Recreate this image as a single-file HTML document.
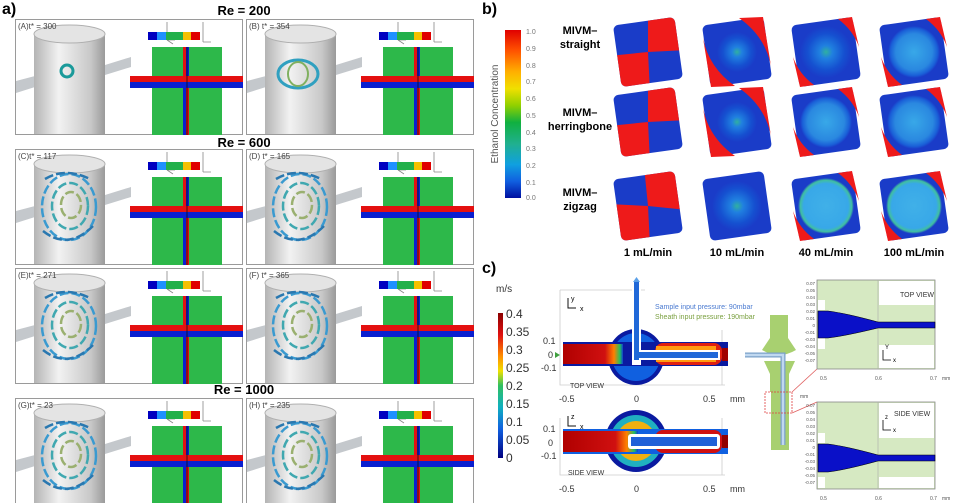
<!DOCTYPE html>
<html><head><meta charset="utf-8"><style>
html,body{margin:0;padding:0;background:#fff;}
svg{display:block;font-family:"Liberation Sans",sans-serif;}
</style></head><body>
<svg width="955" height="503" viewBox="0 0 955 503" xmlns="http://www.w3.org/2000/svg">
<defs>
<linearGradient id="cyl" x1="0" x2="1" y1="0" y2="0">
<stop offset="0" stop-color="#b4b4b4"/><stop offset="0.35" stop-color="#f2f2f2"/><stop offset="0.8" stop-color="#c8c8c8"/><stop offset="1" stop-color="#9a9a9a"/></linearGradient>
<linearGradient id="jet" x1="0" x2="0" y1="0" y2="1">
<stop offset="0" stop-color="#e00000"/><stop offset="0.12" stop-color="#ff5000"/><stop offset="0.25" stop-color="#ffb000"/><stop offset="0.35" stop-color="#f0e000"/><stop offset="0.45" stop-color="#90d000"/><stop offset="0.55" stop-color="#10b040"/><stop offset="0.68" stop-color="#20b090"/><stop offset="0.8" stop-color="#10a0e0"/><stop offset="0.9" stop-color="#1060e0"/><stop offset="1" stop-color="#0010a0"/></linearGradient>
<linearGradient id="jet2" x1="0" x2="0" y1="0" y2="1">
<stop offset="0" stop-color="#8a0000"/><stop offset="0.15" stop-color="#e01010"/><stop offset="0.3" stop-color="#ff9000"/><stop offset="0.4" stop-color="#f0e000"/><stop offset="0.5" stop-color="#30c060"/><stop offset="0.65" stop-color="#10b0c0"/><stop offset="0.8" stop-color="#1060e0"/><stop offset="1" stop-color="#000080"/></linearGradient>
<linearGradient id="inlet" x1="0" x2="1" y1="0" y2="0"><stop offset="0" stop-color="#b00000"/><stop offset="0.7" stop-color="#d01010"/><stop offset="0.85" stop-color="#ff8000"/><stop offset="0.95" stop-color="#20c060"/><stop offset="1" stop-color="#1040d0"/></linearGradient>
<radialGradient id="mix1"><stop offset="0" stop-color="#30b0a0"/><stop offset="0.25" stop-color="#2080e0"/><stop offset="0.7" stop-color="#1550d0"/><stop offset="1" stop-color="#1a3cc8"/></radialGradient>
<radialGradient id="mix2"><stop offset="0" stop-color="#38a8e8"/><stop offset="0.7" stop-color="#2a88e0"/><stop offset="0.9" stop-color="#1a60d8"/><stop offset="1" stop-color="#1a3cc8"/></radialGradient>
<radialGradient id="mix3"><stop offset="0" stop-color="#40b0e8"/><stop offset="0.8" stop-color="#38a8e8"/><stop offset="0.92" stop-color="#40c0a0"/><stop offset="1" stop-color="#1a3cc8"/></radialGradient>
<g id="pan">
<rect x="0.5" y="0.5" width="227" height="115" fill="#fff" stroke="#9a9a9a"/>
<polygon points="1,62 20,57 20,68 1,74" fill="#c4c8cc"/>
<rect x="19" y="15" width="71" height="100" fill="url(#cyl)"/>
<ellipse cx="54.5" cy="15" rx="35.5" ry="9" fill="#e4e4e4" stroke="#b0b0b0"/>
<polygon points="90,46 116,38 116,48 90,56" fill="#c4c8cc"/>
<g stroke="#888" stroke-width="0.8" fill="none"><path d="M152 3v18M152 21h8M152 21l6 4"/><path d="M188 3v20M188 23h8"/></g>
<rect x="133" y="13" width="9" height="8" fill="#0000c0"/><rect x="142" y="13" width="9" height="8" fill="#1e90ff"/><rect x="151" y="13" width="17" height="8" fill="#22b04a"/><rect x="168" y="13" width="8" height="8" fill="#f5c000"/><rect x="176" y="13" width="9" height="8" fill="#e00000"/>
<rect x="137" y="28" width="70" height="88" fill="#2db84a"/>
<rect x="115" y="57" width="113" height="6" fill="#e41010"/>
<rect x="115" y="63" width="113" height="6" fill="#0a1fd0"/>
<rect x="168" y="28" width="3" height="29" fill="#e41010"/><rect x="171" y="28" width="3" height="29" fill="#0a1fd0"/>
<rect x="168" y="69" width="3" height="47" fill="#0a1fd0"/><rect x="171" y="69" width="3" height="47" fill="#e41010"/>
<line x1="172" y1="28" x2="172" y2="116" stroke="#111" stroke-width="0.8"/>
</g>
<g id="sw"><g fill="none" stroke-width="2.5" stroke-dasharray="9 3">
<ellipse cx="54" cy="58" rx="27" ry="33" stroke="#3a9ad0"/><ellipse cx="55" cy="57" rx="18" ry="23" stroke="#40a8b0"/><ellipse cx="56" cy="56" rx="10" ry="13" stroke="#9ab070"/><path d="M30 30q20-12 45 0M28 82q25 20 50 -5" stroke="#2a78b0"/></g></g>
<g id="sq"><rect x="-31" y="-31" width="62" height="62" rx="5" fill="#1a3cc8" transform="rotate(-8)"/></g>
<clipPath id="sqc"><rect x="-31" y="-31" width="62" height="62" rx="5" transform="rotate(-8)"/></clipPath>
<g id="cr"><path d="M12,-33 L26,-35 L33,-5 Q27,-22 12,-33Z M-12,33 L-26,35 L-33,5 Q-27,22 -12,33Z" fill="#ee1a1a"/></g>
<g id="cr2"><path d="M2,-34 L26,-35 L34,14 Q28,-16 2,-34Z M-2,34 L-26,35 L-34,-14 Q-28,16 -2,34Z" fill="#ee1a1a"/></g>
</defs>

<text x="2" y="14" font-size="16" font-weight="bold">a)</text>
<text x="244" y="15" font-size="13" font-weight="bold" text-anchor="middle">Re = 200</text>
<text x="244" y="147" font-size="13" font-weight="bold" text-anchor="middle">Re = 600</text>
<text x="244" y="394" font-size="13" font-weight="bold" text-anchor="middle">Re = 1000</text>

<use href="#pan" x="15" y="19"/><use href="#pan" x="246" y="19"/>
<use href="#pan" x="15" y="149"/><use href="#pan" x="246" y="149"/>
<use href="#pan" x="15" y="268"/><use href="#pan" x="246" y="268"/>
<use href="#pan" x="15" y="398"/><use href="#pan" x="246" y="398"/>

<ellipse cx="67" cy="71" rx="6" ry="6" fill="none" stroke="#1a9a9a" stroke-width="3"/>
<ellipse cx="298" cy="74" rx="20" ry="14" fill="none" stroke="#30a0c0" stroke-width="3"/>
<ellipse cx="298" cy="74" rx="10" ry="12" fill="none" stroke="#80b060" stroke-width="2"/>
<use href="#sw" x="15" y="149"/><use href="#sw" x="246" y="149"/>
<use href="#sw" x="15" y="268"/><use href="#sw" x="246" y="268"/>
<use href="#sw" x="15" y="398"/><use href="#sw" x="246" y="398"/>

<g font-size="8" fill="#444">
<text x="18" y="29">(A)t* = 300</text><text x="249" y="29">(B) t* = 354</text>
<text x="18" y="159">(C)t* = 117</text><text x="249" y="159">(D) t* = 165</text>
<text x="18" y="278">(E)t* = 271</text><text x="249" y="278">(F) t* = 365</text>
<text x="18" y="408">(G)t* = 23</text><text x="249" y="408">(H) t* = 235</text>
</g>

<text x="482" y="14" font-size="16" font-weight="bold">b)</text>
<rect x="505" y="30" width="16" height="168" fill="url(#jet)"/>
<text transform="translate(498,114) rotate(-90)" font-size="10" fill="#555" text-anchor="middle">Ethanol Concentration</text>
<g font-size="7" fill="#777">
<text x="526" y="34">1.0</text><text x="526" y="51">0.9</text><text x="526" y="68">0.8</text><text x="526" y="84">0.7</text><text x="526" y="101">0.6</text><text x="526" y="118">0.5</text><text x="526" y="135">0.4</text><text x="526" y="151">0.3</text><text x="526" y="168">0.2</text><text x="526" y="185">0.1</text><text x="526" y="200">0.0</text>
</g>
<g font-size="11" font-weight="bold" text-anchor="middle">
<text x="580" y="34">MIVM–</text><text x="580" y="48">straight</text>
<text x="580" y="116">MIVM–</text><text x="580" y="130">herringbone</text>
<text x="580" y="196">MIVM–</text><text x="580" y="210">zigzag</text>
<text x="648" y="256">1 mL/min</text><text x="737" y="256">10 mL/min</text><text x="826" y="256">40 mL/min</text><text x="914" y="256">100 mL/min</text>
</g>
<g transform="translate(648,52)"><use href="#sq"/><g clip-path="url(#sqc)"><path d="M0 0 L0 -40 L40 -40 L40 -2Z M0 0 L-40 4 L-40 40 L2 40Z" fill="#ee1a1a"/></g></g>
<g transform="translate(648,122)"><use href="#sq"/><g clip-path="url(#sqc)"><path d="M0 0 L0 -40 L40 -40 L40 -2Z M0 0 L-40 4 L-40 40 L2 40Z" fill="#ee1a1a"/></g></g>
<g transform="translate(648,206)"><use href="#sq"/><g clip-path="url(#sqc)"><path d="M0 0 L-4 -40 L40 -40 L40 4Z M0 0 L-40 -2 L-40 40 L2 40Z" fill="#ee1a1a"/></g></g>
<g transform="translate(737,52)"><use href="#sq"/><circle r="20" fill="url(#mix1)"/><use href="#cr2"/></g>
<g transform="translate(737,122)"><use href="#sq"/><circle r="20" fill="url(#mix1)"/><use href="#cr2"/></g>
<g transform="translate(737,206)"><use href="#sq"/><circle r="25" fill="url(#mix1)"/></g>
<g transform="translate(826,52)"><use href="#sq"/><circle r="26" fill="url(#mix1)"/><use href="#cr"/></g>
<g transform="translate(826,122)"><use href="#sq"/><circle r="26" fill="url(#mix2)"/><use href="#cr"/></g>
<g transform="translate(826,206)"><use href="#sq"/><circle r="28" fill="url(#mix3)"/><use href="#cr"/></g>
<g transform="translate(914,52)"><use href="#sq"/><circle r="26" fill="url(#mix2)"/><use href="#cr"/></g>
<g transform="translate(914,122)"><use href="#sq"/><circle r="27" fill="url(#mix2)"/><use href="#cr"/></g>
<g transform="translate(914,206)"><use href="#sq"/><circle r="28" fill="url(#mix3)"/><use href="#cr"/></g>

<text x="482" y="273" font-size="16" font-weight="bold">c)</text>
<text x="496" y="292" font-size="10" fill="#333">m/s</text>
<rect x="498" y="313" width="5" height="145" fill="url(#jet2)"/>
<g font-size="12" fill="#333">
<text x="506" y="318">0.4</text><text x="506" y="336">0.35</text><text x="506" y="354">0.3</text><text x="506" y="372">0.25</text><text x="506" y="390">0.2</text><text x="506" y="408">0.15</text><text x="506" y="426">0.1</text><text x="506" y="444">0.05</text><text x="506" y="462">0</text>
</g>
<g stroke="#ccc" stroke-width="0.8" fill="none"><path d="M560 290V385H725M560 290H645M722 330V385"/><path d="M560 418V475H725M722 418V475"/></g>
<g stroke="#111" stroke-width="1" fill="none"><path d="M568 298v10h8"/><path d="M568 416v10h8"/></g>
<text x="580" y="311" font-size="7">x</text><text x="571" y="301" font-size="7">y</text>
<text x="580" y="429" font-size="7">x</text><text x="571" y="419" font-size="7">z</text>
<circle cx="636" cy="357" r="28" fill="#0a1aa0"/>
<circle cx="636" cy="357" r="24" fill="#1060e0"/>
<rect x="563" y="342" width="165" height="24" fill="#0a1aa0"/>
<rect x="563" y="344" width="60" height="20" fill="url(#inlet)"/>
<rect x="655" y="343" width="67" height="22" rx="8" fill="#e02010"/>
<rect x="656" y="346" width="60" height="16" fill="#ff9a10"/>
<rect x="722" y="348" width="6" height="13" fill="#a00000"/>
<rect x="632" y="285" width="9" height="80" fill="#fff"/>
<rect x="632" y="350" width="88" height="10" fill="#fff"/>
<rect x="634" y="282" width="5" height="78" fill="#2068d8"/>
<rect x="634" y="352" width="84" height="6" fill="#2068d8"/>
<path d="M633 282h7l-3.5-5z" fill="#5aa0e8"/>
<path d="M555 352l5 3-5 3z" fill="#40a040"/>
<text x="655" y="309" font-size="7" fill="#4a7ad0">Sample input pressure: 90mbar</text>
<text x="655" y="319" font-size="7" fill="#7aa040">Sheath input pressure: 190mbar</text>
<g font-size="9" fill="#333"><text x="543" y="344">0.1</text><text x="548" y="358">0</text><text x="541" y="371">-0.1</text>
<text x="559" y="402">-0.5</text><text x="634" y="402">0</text><text x="703" y="402">0.5</text><text x="730" y="402">mm</text>
<text x="543" y="432">0.1</text><text x="548" y="446">0</text><text x="541" y="459">-0.1</text>
<text x="559" y="492">-0.5</text><text x="634" y="492">0</text><text x="703" y="492">0.5</text><text x="730" y="492">mm</text></g>
<text x="570" y="388" font-size="7" fill="#333">TOP VIEW</text>
<text x="568" y="475" font-size="7" fill="#333">SIDE VIEW</text>
<circle cx="636" cy="441" r="31" fill="#0a1aa0"/>
<circle cx="636" cy="441" r="26" fill="#20b0c0"/>
<circle cx="636" cy="441" r="20" fill="#f0b010"/>
<rect x="563" y="429" width="165" height="25" fill="#1060e0"/>
<rect x="563" y="431" width="75" height="21" fill="url(#inlet)"/>
<rect x="655" y="430" width="67" height="23" rx="8" fill="#d01010"/>
<rect x="722" y="435" width="6" height="13" fill="#900000"/>
<rect x="628" y="434" width="92" height="15" rx="3" fill="#fff"/>
<rect x="631" y="437" width="86" height="9" fill="#2060d8"/>
<g fill="#a8d070">
<rect x="770" y="315" width="18" height="25"/>
<path d="M770 338 L762 350 Q779 360 796 350 L788 338Z"/>
<path d="M764 361 L795 361 L789 374 L789 392 L770 392 L770 374Z"/>
<rect x="771" y="392" width="18" height="58"/>
</g>
<path d="M745 355 H783 V445" fill="none" stroke="#7aa0c8" stroke-width="5"/>
<path d="M745 355 H783 V445" fill="none" stroke="#c0d8f0" stroke-width="2.5"/>
<rect x="765" y="392" width="27" height="21" fill="none" stroke="#e04040" stroke-width="0.8" stroke-dasharray="2 1"/>
<line x1="792" y1="392" x2="817" y2="369" stroke="#e06060" stroke-width="0.8"/>
<line x1="792" y1="413" x2="817" y2="402" stroke="#e06060" stroke-width="0.8"/>
<g>
<rect x="817" y="280" width="118" height="89" fill="#d6e9c2" stroke="#888" stroke-width="0.8"/>
<rect x="879" y="281" width="55" height="24" fill="#fff"/><rect x="879" y="345" width="55" height="23" fill="#fff"/>
<rect x="818" y="300" width="7" height="10" fill="#fff"/><rect x="818" y="338" width="7" height="11" fill="#fff"/>
<line x1="878" y1="280" x2="878" y2="369" stroke="#aaa" stroke-width="0.6"/>
<path d="M818 311 L828 311 Q845 313 878 322 L935 322 L935 328 L878 328 Q845 336 828 338 L818 338Z" fill="#0a10c8" stroke="#000" stroke-width="0.6"/>
<text x="900" y="297" font-size="7" fill="#333">TOP VIEW</text>
<path d="M883 350v10h8" fill="none" stroke="#000" stroke-width="0.8"/><text x="885" y="349" font-size="6">Y</text><text x="893" y="362" font-size="6">x</text>
</g>
<g>
<rect x="817" y="402" width="118" height="87" fill="#d6e9c2" stroke="#888" stroke-width="0.8"/>
<rect x="879" y="403" width="55" height="35" fill="#fff"/><rect x="879" y="477" width="55" height="11" fill="#fff"/>
<rect x="818" y="433" width="7" height="10" fill="#fff"/><rect x="818" y="477" width="7" height="11" fill="#fff"/>
<line x1="878" y1="402" x2="878" y2="489" stroke="#aaa" stroke-width="0.6"/>
<path d="M818 444 L828 444 Q845 446 878 455 L935 455 L935 461 L878 461 Q845 470 828 472 L818 472Z" fill="#0a10c8" stroke="#000" stroke-width="0.6"/>
<text x="894" y="416" font-size="7" fill="#333">SIDE VIEW</text>
<path d="M883 420v10h8" fill="none" stroke="#000" stroke-width="0.8"/><text x="885" y="419" font-size="6">z</text><text x="893" y="432" font-size="6">x</text>
</g>
<g font-size="4.5" fill="#555" text-anchor="end">
<text x="815" y="285">0.07</text><text x="815" y="292">0.05</text><text x="815" y="299">0.04</text><text x="815" y="306">0.03</text><text x="815" y="313">0.02</text><text x="815" y="320">0.01</text><text x="815" y="327">0</text><text x="815" y="334">-0.01</text><text x="815" y="341">-0.03</text><text x="815" y="348">-0.04</text><text x="815" y="355">-0.05</text><text x="815" y="362">-0.07</text>
<text x="815" y="407">0.07</text><text x="815" y="414">0.05</text><text x="815" y="421">0.04</text><text x="815" y="428">0.03</text><text x="815" y="435">0.02</text><text x="815" y="442">0.01</text><text x="815" y="449">0</text><text x="815" y="456">-0.01</text><text x="815" y="463">-0.03</text><text x="815" y="470">-0.04</text><text x="815" y="477">-0.05</text><text x="815" y="484">-0.07</text>
</g>
<g font-size="5" fill="#555">
<text x="820" y="380">0.5</text><text x="875" y="380">0.6</text><text x="930" y="380">0.7</text><text x="942" y="380">mm</text>
<text x="800" y="398">mm</text>
<text x="820" y="500">0.5</text><text x="875" y="500">0.6</text><text x="930" y="500">0.7</text><text x="942" y="500">mm</text>
</g>
</svg>
</body></html>
